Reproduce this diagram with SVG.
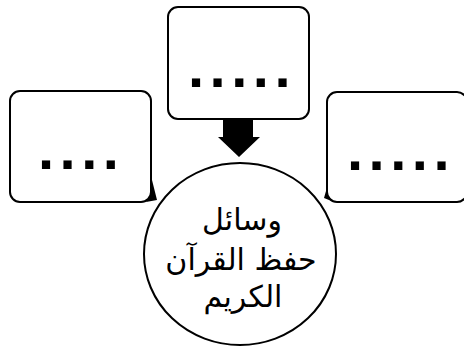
<svg xmlns="http://www.w3.org/2000/svg" width="464" height="349" viewBox="0 0 464 349">
<defs>
<style>
.box{fill:#fff;stroke:#000;stroke-width:2}
.dots{font-family:"Liberation Sans",Arial,sans-serif;font-weight:bold;font-size:58px;fill:#000;letter-spacing:5.5px}
.ar{font-family:"DejaVu Sans","Noto Sans",sans-serif;font-size:30px;fill:#000;text-anchor:middle}
</style>
</defs>
<rect width="464" height="349" fill="#fff"/>
<g id="connectors">
<polygon points="223,119 253,119 253,137 260,137 239,157 218,137 223,137" fill="#000"/>
</g>
<g id="node-top">
<rect class="box" x="168" y="7" width="141" height="112" rx="10"/>
<text class="dots" x="188" y="87">.....</text>
</g>
<g id="node-left">
<rect class="box" x="10" y="91" width="141" height="111" rx="10"/>
<polygon points="150,172 157,200 146,202 150,196" fill="#000"/>
<text class="dots" x="38" y="169">....</text>
</g>
<g id="node-right">
<rect class="box" x="327" y="92" width="140" height="110" rx="10"/>
<polygon points="328,184 324,198 334,202 328,196" fill="#000"/>
<text class="dots" x="347" y="170">.....</text>
</g>
<g id="node-center">
<ellipse cx="240" cy="254" rx="96" ry="91" fill="#fff" stroke="#000" stroke-width="2"/>
<text class="ar" x="242" y="230" direction="rtl">وسائل</text>
<text class="ar" x="241" y="270" direction="rtl">حفظ القرآن</text>
<text class="ar" x="243" y="307" direction="rtl">الكريم</text>
</g>
</svg>
